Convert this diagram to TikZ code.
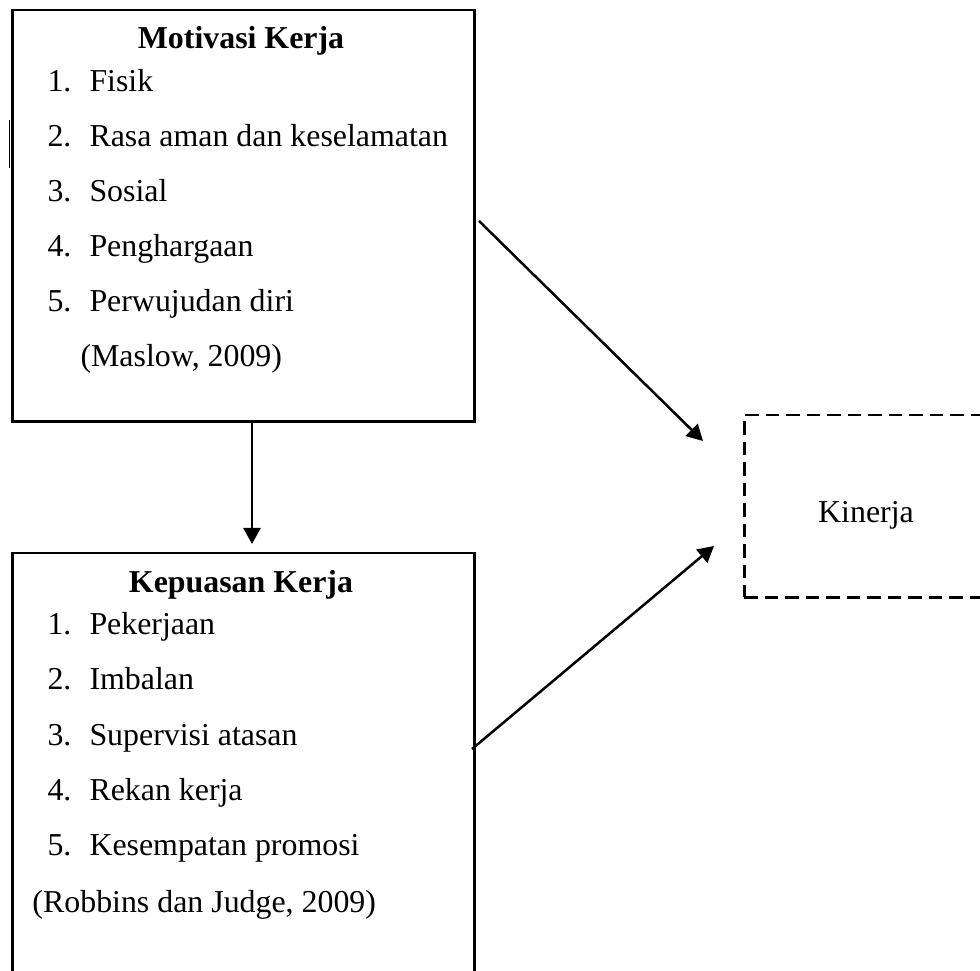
\documentclass[tikz,border=0pt]{standalone}
\usepackage{fontspec}
\setmainfont{Liberation Serif}
\usetikzlibrary{arrows.meta, positioning, calc}

\begin{document}
\begin{tikzpicture}[
    x=0.4pt, y=-0.4pt,
    frame/.style={draw, line width=1pt, inner sep=0pt, anchor=north west},
    head/.style={anchor=base, inner sep=0pt, font=\fontsize{12.75}{15}\selectfont\bfseries},
    item/.style={anchor=base west, inner sep=0pt, font=\fontsize{12.75}{15}\selectfont},
    arr/.style={-{Triangle[length=6.4pt, width=6.8pt]}, line width=1pt}
  ]
  \useasboundingbox (0,0) rectangle (980,971);
  \clip (0,0) rectangle (980,971);

  % boxes
  \node[frame, minimum width=184.8pt, minimum height=164.4pt] (motivasi) at (11,9) {};
  \node[frame, minimum width=184.8pt, minimum height=180pt]   (kepuasan) at (11,552) {};
  \node[frame, dashed, dash pattern=on 5.4pt off 2.8pt,
        minimum width=110pt, minimum height=72.8pt]           (kinerja)  at (743,414) {};

  % Motivasi Kerja
  \node[head] (motTitle) at (241,49) {Motivasi Kerja};
  \foreach \txt [count=\i] in {Fisik, Rasa aman dan keselamatan, Sosial,
                               Penghargaan, Perwujudan diri} {
    \node[item] (motNum\i) at (47,37+55*\i) {\i.};
    \node[item] (mot\i)    at (89,37+55*\i) {\txt};
  }
  \node[item] (motSrc) at (80,367) {(Maslow, 2009)};

  % Kepuasan Kerja
  \node[head] (kepTitle) at (241,593) {Kepuasan Kerja};
  \foreach \txt [count=\i] in {Pekerjaan, Imbalan, Supervisi atasan,
                               Rekan kerja, Kesempatan promosi} {
    \node[item] (kepNum\i) at (47,580+55*\i) {\i.};
    \node[item] (kep\i)    at (89,580+55*\i) {\txt};
  }
  \node[item] (kepSrc) at (32,912) {(Robbins dan Judge, 2009)};

  % Kinerja
  \node[head, font=\fontsize{12.75}{15}\selectfont] (kinText) at (866,523) {Kinerja};

  % stray mark left of the first box
  \draw[line width=0.6pt] (9.5,120) -- (9.5,168);

  % connectors
  \coordinate (downTip) at (252,544);
  \coordinate (motOut)  at (479,221);
  \coordinate (kinIn1)  at (703,441);
  \coordinate (kepOut)  at (472,749);
  \coordinate (kinIn2)  at (714,546);
  \draw[arr] (motivasi.south -| downTip) -- (downTip);
  \draw[arr] (motOut) -- (kinIn1);
  \draw[arr] (kepOut) -- (kinIn2);
\end{tikzpicture}
\end{document}
